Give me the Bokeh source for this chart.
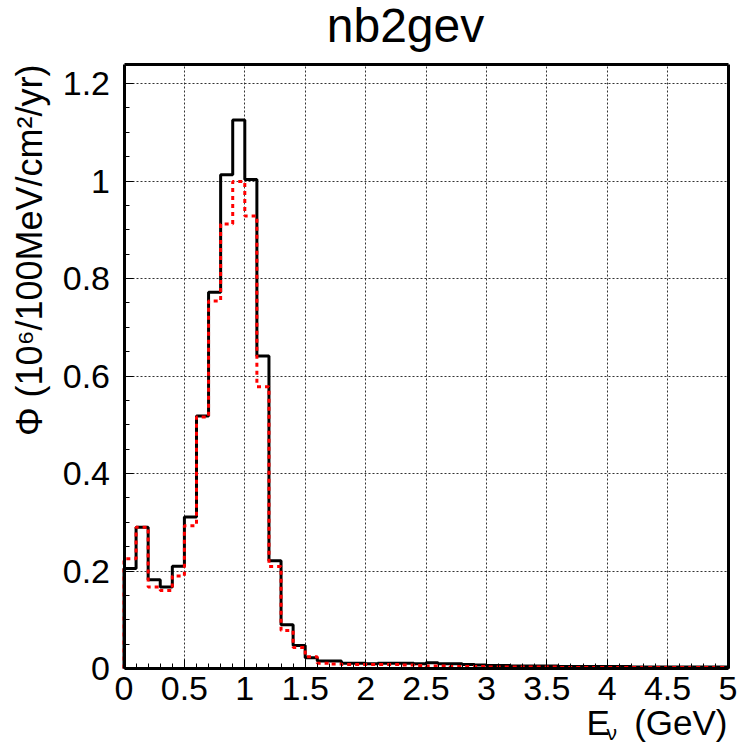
import numpy as np
from bokeh.plotting import figure
from bokeh.models import Range1d, FixedTicker, Label, LinearAxis, Grid
from bokeh.embed import file_html
from bokeh.resources import INLINE

# ---------------- data ----------------
bin_lo = 0.0
bin_hi = 5.0
n_bins = 50

flux_black = [0.205, 0.29, 0.182, 0.167, 0.21, 0.311, 0.518, 0.772, 1.013, 1.125,
              1.003, 0.641, 0.221, 0.09, 0.047, 0.022, 0.0155, 0.0155, 0.011, 0.011,
              0.0095, 0.011, 0.011, 0.011, 0.01, 0.012, 0.01, 0.01, 0.008, 0.007,
              0.006, 0.006, 0.005, 0.005, 0.005, 0.005, 0.004, 0.004, 0.004, 0.004,
              0.004, 0.004, 0.003, 0.003, 0.003, 0.003, 0.003, 0.003, 0.003, 0.003]

flux_red = [0.225, 0.29, 0.167, 0.16, 0.19, 0.293, 0.516, 0.754, 0.912, 0.999,
            0.928, 0.578, 0.209, 0.078, 0.043, 0.024, 0.011, 0.009, 0.008, 0.008,
            0.008, 0.008, 0.008, 0.007, 0.006, 0.005, 0.005, 0.004, 0.004, 0.004,
            0.003, 0.003, 0.003, 0.003, 0.003, 0.003, 0.002, 0.002, 0.002, 0.002,
            0.002, 0.002, 0.002, 0.002, 0.002, 0.002, 0.002, 0.002, 0.002, 0.002]

x_ticks = [0, 0.5, 1, 1.5, 2, 2.5, 3, 3.5, 4, 4.5, 5]
x_tick_labels = ["0", "0.5", "1", "1.5", "2", "2.5", "3", "3.5", "4", "4.5", "5"]
y_ticks = [0, 0.2, 0.4, 0.6, 0.8, 1.0, 1.2]
y_tick_labels = ["0", "0.2", "0.4", "0.6", "0.8", "1", "1.2"]
x_max = 5.0
y_max = 1.239

title_text = "nb2gev"
y_title = "\u03a6 (10\u2076/100MeV/cm\u00b2/yr)"
x_title_main = "E"
x_title_sub = "\u03bd"
x_title_unit = "(GeV)"

# ---------------- geometry (page pixels) ----------------
W, H = 742, 750
PX_X0, PX_X1 = 123.5, 727.5    # pixel columns of x=0 and x=x_max
PY_Y0, PY_YT = 668.0, 64.0     # pixel rows of y=0 and y=y_max
kx = (PX_X1 - PX_X0) / x_max
ky = (PY_Y0 - PY_YT) / y_max
x_range = Range1d(-PX_X0 / kx, x_max + (W - PX_X1) / kx)
y_range = Range1d(-(H - PY_Y0) / ky, y_max + PY_YT / ky)

FONT = "Liberation Sans"

p = figure(width=W, height=H, min_border=0,
           x_range=x_range, y_range=y_range,
           x_axis_type=None, y_axis_type=None,
           output_backend="svg", toolbar_location=None,
           background_fill_color="white", border_fill_color="white")
p.outline_line_color = None
p.grid.visible = False


def style_axis(ax, ticks, labels, minor, standoff):
    ax.ticker = FixedTicker(ticks=ticks, minor_ticks=minor)
    ax.major_label_overrides = {t: s for t, s in zip(ticks, labels)}
    ax.axis_line_width = 3
    ax.axis_line_color = "black"
    ax.major_tick_in = 9
    ax.major_tick_out = 0
    ax.minor_tick_in = 5
    ax.minor_tick_out = 0
    ax.major_tick_line_width = 1
    ax.minor_tick_line_width = 1
    ax.major_tick_line_color = "black"
    ax.minor_tick_line_color = "black"
    ax.major_label_text_font = FONT
    ax.major_label_text_font_size = "34px"
    ax.major_label_text_color = "black"
    ax.major_label_standoff = standoff


xax = LinearAxis(fixed_location=0, bounds=(0, x_max))
style_axis(xax, x_ticks, x_tick_labels,
           list(np.round(np.arange(0, x_max + 1e-6, 0.1), 3)), 8)
p.add_layout(xax, "below")

yax = LinearAxis(fixed_location=0, bounds=(0, y_max))
style_axis(yax, y_ticks, y_tick_labels,
           list(np.round(np.arange(0, 1.2 + 1e-6, 0.05), 3)), 14)
p.add_layout(yax, "left")

# frame top / right edges
for side, loc, bnd in (("above", y_max, (0, x_max)), ("right", x_max, (0, y_max))):
    a = LinearAxis(fixed_location=loc, bounds=bnd, ticker=FixedTicker(ticks=[]),
                   axis_line_width=3, axis_line_color="black",
                   major_tick_line_color=None, minor_tick_line_color=None,
                   major_label_text_font_size="0px")
    p.add_layout(a, side)

# grid lines (dotted), limited to the plot box
gx = Grid(dimension=0, ticker=FixedTicker(ticks=x_ticks), cross_bounds=(0, y_max),
          grid_line_color="#333333", grid_line_dash="2 2", grid_line_width=1)
gy = Grid(dimension=1, ticker=FixedTicker(ticks=y_ticks), cross_bounds=(0, x_max),
          grid_line_color="#333333", grid_line_dash="2 2", grid_line_width=1)
p.add_layout(gx)
p.add_layout(gy)

# ---------------- histograms as steps ----------------
edges = np.linspace(bin_lo, bin_hi, n_bins + 1)
xs = np.repeat(edges, 2)
yb = np.concatenate([[0.0], np.repeat(flux_black, 2), [0.0]])
yr = np.concatenate([[0.0], np.repeat(flux_red, 2), [0.0]])

p.line(xs, yb, line_color="black", line_width=3)
p.line(xs, yr, line_color="#ff0000", line_width=3, line_dash="4 4")


# ---------------- texts (canvas units, origin top-left) ----------------
def lab(ix, iy, text, size, align="left", angle=0.0):
    p.add_layout(Label(x=ix, y=iy, x_units="canvas", y_units="canvas",
                       text=text, angle=angle, text_font=FONT, text_font_size=size,
                       text_align=align, text_baseline="alphabetic",
                       text_color="black", level="overlay"))


lab(405, 25, title_text, "48px", "center")
lab(727, 722, x_title_unit, "35px", "right")
lab(586, 722, x_title_main, "35px", "left")
lab(606, 732, x_title_sub, "21px", "left")
lab(29, 64, y_title, "36px", "right", np.pi / 2)

open("out.html", "w").write(file_html(p, INLINE))
